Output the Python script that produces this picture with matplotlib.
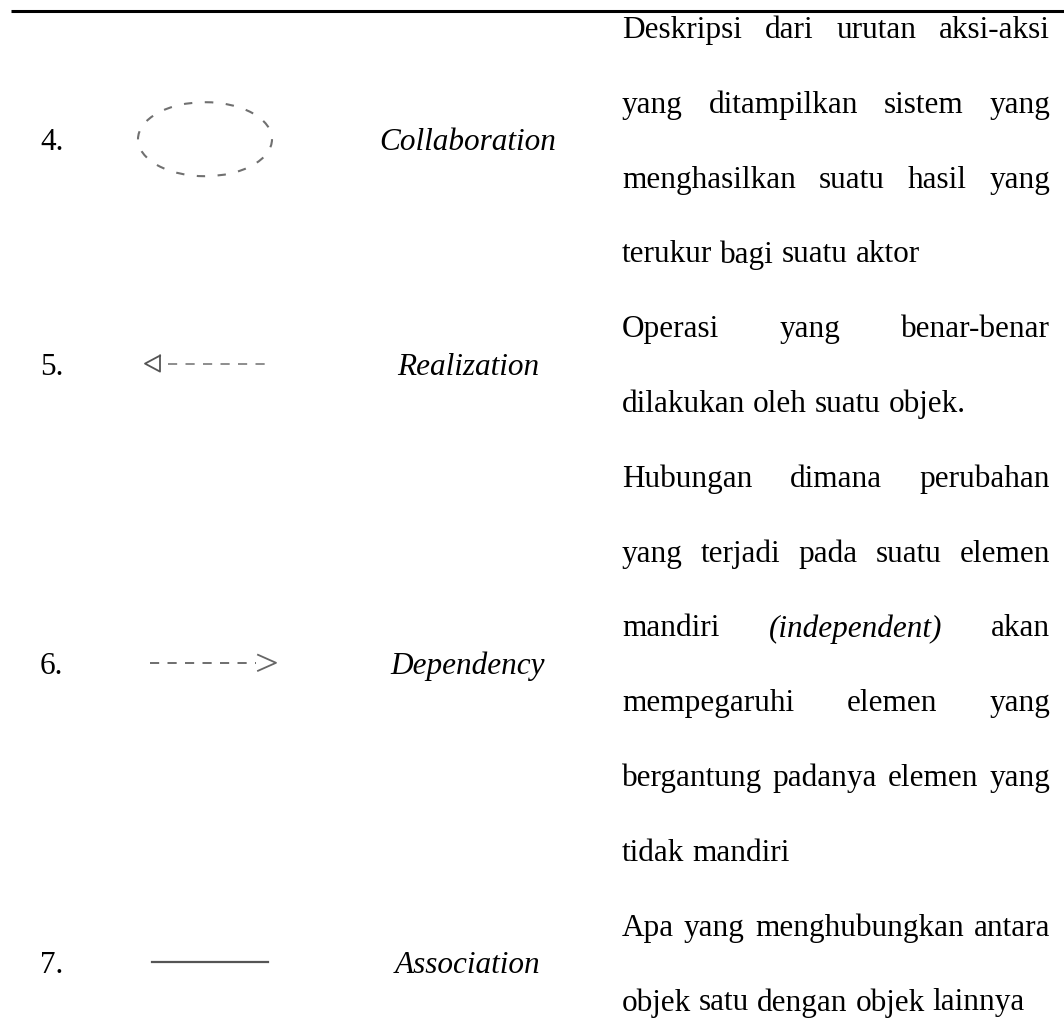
import matplotlib.pyplot as plt
from matplotlib.patches import Ellipse

plt.rcParams['font.family'] = ['Liberation Serif', 'DejaVu Serif']

# -------------------------
# Isi tabel
# -------------------------
numbers = ['4.', '5.', '6.', '7.']
names = ['Collaboration', 'Realization', 'Dependency', 'Association']
symbols = ['ellipse', 'realization', 'dependency', 'association']

# tiap baris deskripsi: (potongan teks, miring?), rata kanan-kiri?
descriptions = [
    [[('Deskripsi dari urutan aksi-aksi', False)], True],
    [[('yang ditampilkan sistem yang', False)], True],
    [[('menghasilkan suatu hasil yang', False)], True],
    [[('terukur bagi suatu aktor', False)], False],
    [[('Operasi yang benar-benar', False)], True],
    [[('dilakukan oleh suatu objek.', False)], False],
    [[('Hubungan dimana perubahan', False)], True],
    [[('yang terjadi pada suatu elemen', False)], True],
    [[('mandiri', False), ('(independent)', True), ('akan', False)], True],
    [[('mempegaruhi elemen yang', False)], True],
    [[('bergantung padanya elemen yang', False)], True],
    [[('tidak mandiri', False)], False],
    [[('Apa yang menghubungkan antara', False)], True],
    [[('objek satu dengan objek lainnya', False)], False],
]
row_lines = [4, 2, 6, 2]

W, H = 1064, 1036
fig = plt.figure(figsize=(W / 100, H / 100), dpi=100)
ax = fig.add_axes([0, 0, 1, 1])
ax.set_xlim(0, W)
ax.set_ylim(H, 0)
ax.axis('off')

fs = 22.5
line_y0 = 27
line_dy = 74.8
x_num = 40
x_sym = 208
x_name = 468
x_desc0, x_desc1 = 622, 1050

# garis atas tabel
ax.plot([11, W], [11, 11], color='black', lw=2.2, solid_capstyle='butt')

renderer = fig.canvas.get_renderer()


def word_width(word, italic):
    t = ax.text(0, 0, word, fontsize=fs, style='italic' if italic else 'normal')
    bb = t.get_window_extent(renderer=renderer)
    t.remove()
    return bb.width


space = word_width('a a', False) - 2 * word_width('a', False)

# deskripsi (rata kanan-kiri seperti di Word)
for i, (parts, justify) in enumerate(descriptions):
    y = line_y0 + line_dy * i
    words = []
    for text, italic in parts:
        for w in text.split(' '):
            words.append((w, italic))
    widths = [word_width(w, it) for w, it in words]
    if justify and len(words) > 1:
        gap = (x_desc1 - x_desc0 - sum(widths)) / (len(words) - 1)
    else:
        gap = space
    x = x_desc0
    for (w, it), wd in zip(words, widths):
        ax.text(x, y, w, fontsize=fs, style='italic' if it else 'normal',
                ha='left', va='center_baseline')
        x += wd + gap

# nomor, simbol, nama
start = 0
for num, name, sym, n in zip(numbers, names, symbols, row_lines):
    yc = line_y0 + line_dy * (start + (n - 1) / 2)
    start += n
    ax.text(x_num, yc, num, fontsize=fs, ha='left', va='center_baseline')
    ax.text(x_name, yc, name, fontsize=fs, style='italic',
            ha='center', va='center_baseline')
    if sym == 'ellipse':
        ax.add_patch(Ellipse((x_sym - 3, yc), 134, 74, fill=False,
                             edgecolor='#707070', lw=1.5, ls=(0, (4, 6))))
    elif sym == 'realization':
        ax.plot([x_sym - 40, x_sym + 60], [yc, yc], color='#7a7a7a',
                lw=1.2, ls=(0, (5.5, 5)))
        ax.plot([x_sym - 48, x_sym - 63, x_sym - 48, x_sym - 48],
                [yc - 8, yc, yc + 8, yc - 8], color='#555555', lw=1.3)
    elif sym == 'dependency':
        ax.plot([x_sym - 58, x_sym + 48], [yc, yc], color='#555555',
                lw=1.2, ls=(0, (5.5, 5)))
        ax.plot([x_sym + 50, x_sym + 68, x_sym + 50],
                [yc - 8, yc, yc + 8], color='#666666', lw=1.3)
    else:
        ax.plot([x_sym - 56, x_sym + 60], [yc, yc], color='#555555', lw=1.6)

fig.savefig('out.png', dpi=100)
